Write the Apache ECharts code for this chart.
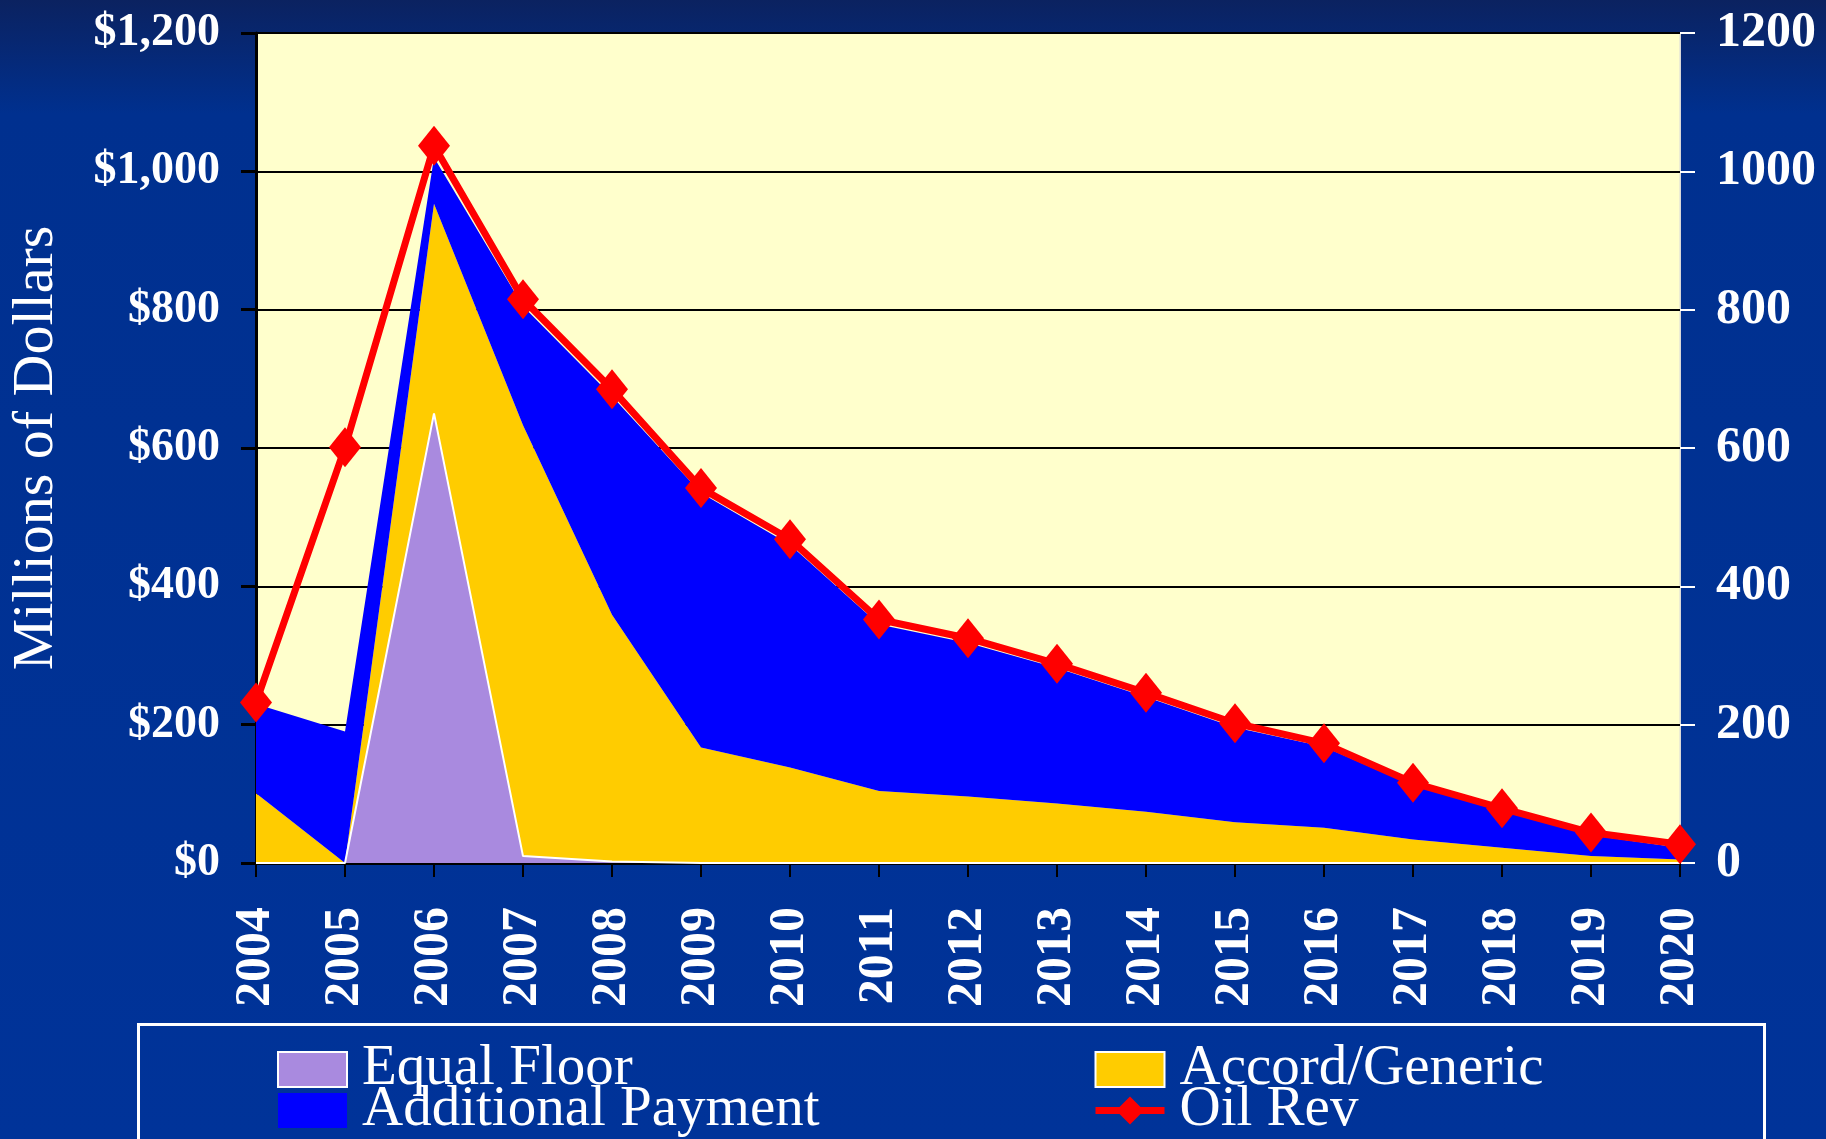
<!DOCTYPE html>
<html>
<head>
<meta charset="utf-8">
<script src="https://cdn.jsdelivr.net/npm/echarts@6/dist/echarts.min.js"></script>
<style>
  html, body { margin: 0; padding: 0; }
  #chart { width: 1826px; height: 1139px; }
</style>
</head>
<body>
<div id="chart"></div>
<script>
var years = ['2004', '2005', '2006', '2007', '2008', '2009', '2010', '2011', '2012',
  '2013', '2014', '2015', '2016', '2017', '2018', '2019', '2020']
var equalFloor = [0, 0, 650, 10, 2, 0, 0, 0, 0, 0, 0, 0, 0, 0, 0, 0, 0]
var accordGeneric = [101, 0, 303, 623, 357, 167, 138, 104, 96, 86, 74, 59, 51, 34, 22, 10, 5]
var additionalPayment = [129, 190, 67, 172, 316, 368, 322, 241, 222, 196, 166, 137, 117, 78, 53, 30, 17]
var oilRev = [232, 601, 1037, 815, 685, 542, 468, 352, 325, 288, 246, 202, 173, 116, 79, 44, 27]

var chart = echarts.init(document.getElementById('chart'))

var serif = "'Liberation Serif', 'DejaVu Serif', serif"

var legendText = {
  color: '#ffffff',
  fontFamily: serif,
  fontSize: 57,
  lineHeight: 40,
  padding: [0, 0, 0, 10],
}

var option = {
  backgroundColor: new echarts.graphic.LinearGradient(0, 0, 0, 1, [
    { offset: 0, color: '#0b2260' },
    { offset: 0.1, color: '#00308f' },
    { offset: 1, color: '#003399' },
  ]),
  animation: false,
  graphic: [
    {
      type: 'rect',
      left: 136,
      top: 1022,
      shape: { width: 1626, height: 140 },
      style: { fill: 'none', stroke: '#ffffff', lineWidth: 3 },
    },
  ],
  legend: [
    {
      orient: 'horizontal',
      left: 277,
      top: 1041,
      width: 600,
      padding: 0,
      itemWidth: 69,
      itemHeight: 35,
      itemGap: -16,
      textStyle: legendText,
      data: [
        { name: 'Equal Floor', icon: 'rect', itemStyle: { borderColor: '#ffffff', borderWidth: 2 } },
        { name: 'Additional Payment', icon: 'rect' },
      ],
    },
    {
      orient: 'horizontal',
      left: 1092,
      top: 1041,
      width: 500,
      padding: 0,
      itemWidth: 69,
      itemHeight: 35,
      itemGap: -16,
      textStyle: legendText,
      data: [
        { name: 'Accord/Generic', icon: 'rect', itemStyle: { borderColor: '#ffffff', borderWidth: 2 } },
        { name: 'Oil Rev', lineStyle: { width: 7 } },
      ],
    },
  ],
  grid: {
    left: 256,
    right: 146,
    top: 33,
    bottom: 276,
    show: true,
    backgroundColor: '#ffffcc',
    borderColor: '#d8d8d8',
    borderWidth: 1,
  },
  xAxis: {
    type: 'category',
    boundaryGap: false,
    data: years,
    axisLine: { lineStyle: { color: '#000000', width: 3 } },
    axisTick: { show: true, length: 14, lineStyle: { color: '#000000', width: 2 } },
    axisLabel: {
      rotate: 90,
      margin: 44,
      color: '#ffffff',
      fontFamily: serif,
      fontWeight: 'bold',
      fontSize: 50,
    },
  },
  yAxis: [
    {
      type: 'value',
      min: 0,
      max: 1200,
      interval: 200,
      name: 'Millions of Dollars',
      nameLocation: 'middle',
      nameRotate: 90,
      nameGap: 190,
      nameTextStyle: { color: '#ffffff', fontFamily: serif, fontSize: 58 },
      axisLine: { show: true, lineStyle: { color: '#000000', width: 3 } },
      axisTick: { show: true, length: 15, lineStyle: { color: '#000000', width: 3 } },
      axisLabel: {
        margin: 36,
        color: '#ffffff',
        fontFamily: serif,
        fontWeight: 'bold',
        fontSize: 46,
        formatter: function (v) {
          return '$' + v.toLocaleString('en-US')
        },
      },
      splitLine: { lineStyle: { color: '#000000', width: 2 } },
    },
    {
      type: 'value',
      min: 0,
      max: 1200,
      interval: 200,
      position: 'right',
      axisLine: { show: true, lineStyle: { color: '#d8d8d8', width: 1 } },
      axisTick: { show: true, length: 15, lineStyle: { color: '#ffffff', width: 2 } },
      axisLabel: {
        margin: 36,
        color: '#ffffff',
        fontFamily: serif,
        fontWeight: 'bold',
        fontSize: 50,
        formatter: function (v) {
          return String(v)
        },
      },
      splitLine: { show: false },
    },
  ],
  series: [
    {
      name: 'Equal Floor',
      type: 'line',
      stack: 'total',
      showSymbol: false,
      lineStyle: { color: '#ffffff', width: 2 },
      itemStyle: { color: '#a98adf' },
      areaStyle: { color: '#a98adf', opacity: 1 },
      data: equalFloor,
    },
    {
      name: 'Accord/Generic',
      type: 'line',
      stack: 'total',
      showSymbol: false,
      lineStyle: { width: 0 },
      itemStyle: { color: '#ffcc00' },
      areaStyle: { color: '#ffcc00', opacity: 1 },
      data: accordGeneric,
    },
    {
      name: 'Additional Payment',
      type: 'line',
      stack: 'total',
      showSymbol: false,
      lineStyle: { width: 0 },
      itemStyle: { color: '#0000ff' },
      areaStyle: { color: '#0000ff', opacity: 1 },
      data: additionalPayment,
    },
    {
      name: 'Oil Rev',
      type: 'line',
      yAxisIndex: 1,
      symbol: 'diamond',
      symbolSize: [32, 40],
      lineStyle: { color: '#ff0000', width: 7 },
      itemStyle: { color: '#ff0000' },
      z: 5,
      data: oilRev,
    },
  ],
}

chart.setOption(option)
</script>
</body>
</html>
